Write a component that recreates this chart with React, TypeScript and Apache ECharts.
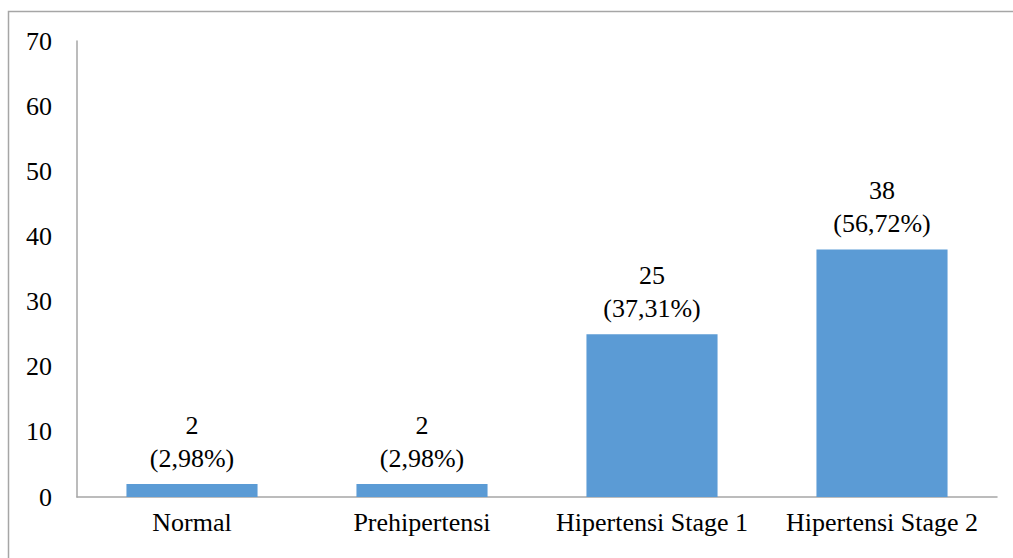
import React, { useEffect, useRef } from "react";
import * as echarts from "echarts";

const categories = ["Normal", "Prehipertensi", "Hipertensi Stage 1", "Hipertensi Stage 2"];
const counts = [2, 2, 25, 38];
const percents = ["2,98%", "2,98%", "37,31%", "56,72%"];

const FONT = "Liberation Serif";

export default function App() {
  const ref = useRef<HTMLDivElement>(null);
  useEffect(() => {
    if (!ref.current) return;
    const chart = echarts.init(ref.current, undefined, { renderer: "svg" });
    chart.setOption({
      animation: false,
      backgroundColor: "#ffffff",
      textStyle: { fontFamily: FONT },
      graphic: [
        {
          type: "rect",
          silent: true,
          shape: { x: 8.5, y: 11.5, width: 1010, height: 560 },
          style: { fill: "none", stroke: "#a6a6a6", lineWidth: 1.5 },
        },
      ],
      grid: { left: 77, right: 16, top: 41, bottom: 61 },
      xAxis: {
        type: "category",
        data: categories,
        axisLine: { show: true, lineStyle: { color: "#a6a6a6", width: 1.5 } },
        axisTick: { show: false },
        axisLabel: { color: "#000", fontFamily: FONT, fontSize: 26, margin: 12, interval: 0 },
      },
      yAxis: {
        type: "value",
        min: 0,
        max: 70,
        interval: 10,
        axisLine: { show: true, lineStyle: { color: "#a6a6a6", width: 1.5 } },
        axisTick: { show: false },
        splitLine: { show: false },
        axisLabel: { color: "#000", fontFamily: FONT, fontSize: 26, margin: 25 },
      },
      series: [
        {
          type: "bar",
          data: counts,
          barWidth: "57%",
          itemStyle: { color: "#5B9BD5" },
          label: {
            show: true,
            position: "top",
            distance: 9,
            color: "#000",
            fontFamily: FONT,
            fontSize: 26,
            lineHeight: 33,
            formatter: (p: any) => `${counts[p.dataIndex]}\n(${percents[p.dataIndex]})`,
          },
        },
      ],
    });
    return () => chart.dispose();
  }, []);
  return (
    <div
      ref={ref}
      style={{ position: "absolute", left: 0, top: 0, width: 1013, height: 558 }}
    />
  );
}
